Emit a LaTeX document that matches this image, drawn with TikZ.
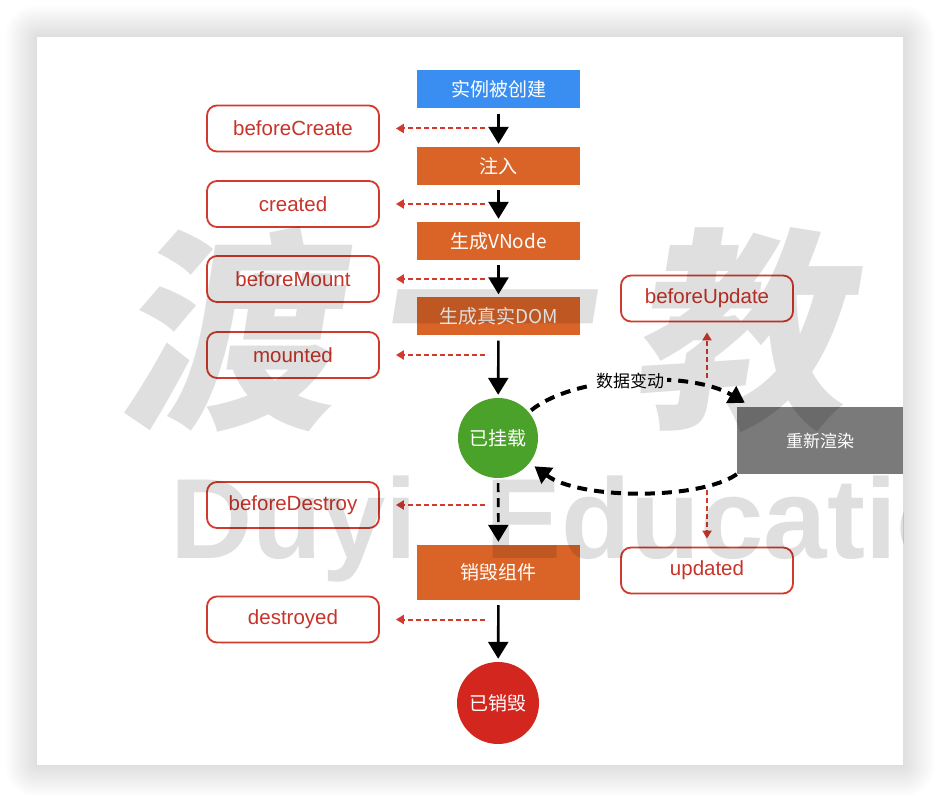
\documentclass[tikz,border=0pt]{standalone}
\usepackage{fontspec}
\setmainfont{Liberation Sans}
\newfontfamily\cjk{Noto Sans CJK SC}
\newfontfamily\wmcjk[FakeSlant=0.16]{Noto Sans CJK SC}
\usetikzlibrary{arrows.meta,calc}
\definecolor{cblue}{HTML}{3A8EF2}
\definecolor{corange}{HTML}{DA6428}
\definecolor{cgreen}{HTML}{4BA22B}
\definecolor{cred}{HTML}{D2261F}
\definecolor{cgray}{HTML}{7A7A7A}
\definecolor{hookred}{HTML}{D23A2D}
\definecolor{hooktext}{HTML}{C8342A}
\begin{document}
\begin{tikzpicture}[x=1pt,y=-1pt,
  stage/.style={rectangle, fill=corange, text=white, minimum width=163pt, minimum height=38pt, inner sep=0pt, font=\cjk\fontsize{19}{21}\selectfont},
  circ/.style={circle, minimum size=80pt, inner sep=0pt, text=white, font=\cjk\fontsize{19}{21}\selectfont},
  render/.style={rectangle, fill=cgray, minimum width=166pt, minimum height=67pt, inner sep=0pt, text=white, font=\cjk\fontsize{17}{19}\selectfont},
  hook/.style={rectangle, draw=hookred, line width=1.8pt, rounded corners=10pt, minimum width=172pt, minimum height=46pt, inner sep=0pt, text=hooktext, font=\fontsize{20.5}{22}\selectfont},
  flow/.style={draw=black, line width=2.6pt, -{Triangle[width=20pt,length=17pt]}, shorten <=5pt, shorten >=3pt},
  flowdash/.style={flow, dash pattern=on 9pt off 6pt},
  loopy/.style={draw=black, line width=4pt, dash pattern=on 10pt off 7pt, -{Triangle[width=19pt,length=16pt]}},
  hookarrow/.style={draw=hookred, line width=2pt, dash pattern=on 5pt off 3pt, -{Triangle[width=9pt,length=8pt]}, shorten >=16pt},
  wm/.style={text=black, text opacity=0.125, inner sep=0pt, font=\wmcjk\bfseries\fontsize{215}{215}\selectfont},
  wmlat/.style={anchor=base west, inner sep=0pt, text=black, text opacity=0.125, font=\bfseries\fontsize{114}{114}\selectfont}
]
\useasboundingbox (0,0) rectangle (940,802);
\fill[white] (0,0) rectangle (940,802);
% soft shadow of the card
\foreach \i in {1,...,32}{
  \fill[black, opacity=0.0058, rounded corners=\i pt] ({37-\i},{37-\i}) rectangle ({903+\i},{765+\i});
}
\fill[white] (37,37) rectangle (903,765);

% main column
\node[stage, fill=cblue] (create) at (498.5,89.5) {实例被创建};
\node[stage] (inject) at (498.5,166) {注入};
\node[stage] (vnode) at (498.5,241) {生成VNode};
\node[stage] (dom) at (498.5,316.5) {生成真实DOM};
\node[circ, fill=cgreen] (mounted) at (498,438) {已挂载};
\node[stage, minimum height=55pt] (destroy) at (498.5,572.5) {销毁组件};
\node[circ, fill=cred, minimum size=82pt] (gone) at (498,703) {已销毁};
\node[render] (rerender) at (820,440.5) {重新渲染};

% hooks
\node[hook] (bc) at (293,128.5) {beforeCreate};
\node[hook] (cr) at (293,204) {created};
\node[hook] (bm) at (293,279) {beforeMount};
\node[hook] (mt) at (293,355) {mounted};
\node[hook] (bd) at (293,505) {beforeDestroy};
\node[hook] (ds) at (293,619.5) {destroyed};
\node[hook] (bu) at (707,298.5) {beforeUpdate};
\node[hook] (up) at (707,570.5) {updated};

% flow arrows
\draw[flow] (create) -- (inject);
\draw[flow] (inject) -- (vnode);
\draw[flow] (vnode) -- (dom);
\draw[flow] (dom) -- (mounted);
\draw[flowdash] (mounted) -- (destroy);
\draw[flow] (destroy) -- (gone);

% hook arrows
\foreach \h in {bc,cr,bm,mt,bd,ds}{
  \draw[hookarrow] ($(\h.east -| create.center)+(-14,0)$) -- (\h.east);
}

% update loop
\draw[loopy, shorten <=3pt] (mounted.40) .. controls (575,375) and (690,370) .. ([xshift=8pt,yshift=4pt]rerender.north west);
\draw[loopy, shorten >=6pt] (rerender.south west) .. controls (700,500) and (580,500) .. (mounted.-38);
\node[fill=white, inner sep=3pt, font=\cjk\fontsize{17}{19}\selectfont] (lbl) at (630,381) {数据变动};

\coordinate (u1) at (707,378);
\coordinate (u2) at (707,490);
\draw[hookarrow, shorten >=10pt] (u1) -- (bu.south);
\draw[hookarrow, shorten >=8pt] (u2) -- (up.north);

% watermark
\begin{scope}
\clip (37,37) rectangle (903,765);
\node[wm] (w1) at (226,330) {渡};
\node[wm] (w2) at (482,340) {一};
\node[wm] (w3) at (738,330) {教};
\node[wm] (w4) at (994,330) {育};
\node[wmlat] (w5) at (170,558) {Duyi};
\node[wmlat] (w6) at (485,558) {Education};
\end{scope}
\end{tikzpicture}
\end{document}
